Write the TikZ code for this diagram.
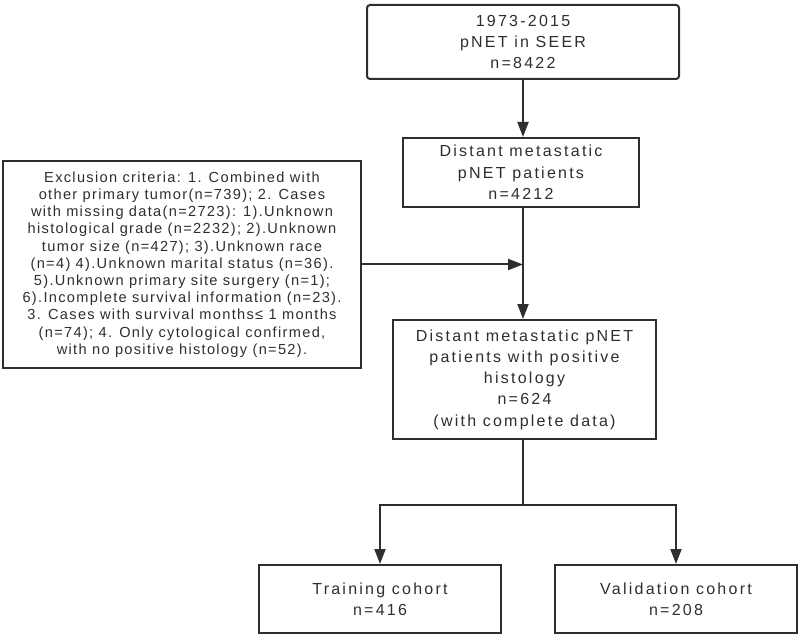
\documentclass[tikz,border=0pt]{standalone}
\usepackage{fontspec}
\setmainfont{Liberation Sans}
\newfontfamily\boxfont[LetterSpace=14]{Liberation Sans}
\newfontfamily\exfont[LetterSpace=9]{Liberation Sans}
\usetikzlibrary{arrows.meta}
\definecolor{ink}{HTML}{2E2E2E}
\begin{document}
\begin{tikzpicture}[x=1pt,y=-1pt,
  mainbox/.style={draw=ink, line width=2pt, text=ink, align=center, inner sep=0pt,
    font=\boxfont\fontsize{16}{21.3}\selectfont},
  exbox/.style={draw=ink, line width=2pt, text=ink, align=center, inner sep=0pt,
    font=\exfont\fontsize{14.6}{17.2}\selectfont},
  conn/.style={draw=ink, line width=2pt},
  arr/.style={conn, -{Triangle[length=15pt,width=11pt]}}]
\useasboundingbox (0,0) rectangle (800,636);
\node[mainbox, rounded corners=3pt, minimum width=312pt, minimum height=74pt] (top) at (523,42)
  {1973-2015\\pNET in SEER\\n=8422};
\node[mainbox, minimum width=236pt, minimum height=69pt] (meta) at (521,172.5)
  {Distant metastatic\\pNET patients\\n=4212};
\node[exbox, minimum width=358pt, minimum height=207pt] (excl) at (182,264.5)
  {Exclusion criteria: 1. Combined with\\
   other primary tumor(n=739); 2. Cases\\
   with missing data(n=2723): 1).Unknown\\
   histological grade (n=2232); 2).Unknown\\
   tumor size (n=427); 3).Unknown race\\
   (n=4) 4).Unknown marital status (n=36).\\
   5).Unknown primary site surgery (n=1);\\
   6).Incomplete survival information (n=23).\\
   3. Cases with survival months≤ 1 months\\
   (n=74); 4. Only cytological confirmed,\\
   with no positive histology (n=52).};
\node[mainbox, minimum width=263pt, minimum height=119pt] (pos) at (524.5,379.5)
  {Distant metastatic pNET\\patients with positive\\histology\\n=624\\(with complete data)};
\node[mainbox, minimum width=242pt, minimum height=68pt] (train) at (380,599)
  {Training cohort\\n=416};
\node[mainbox, minimum width=242pt, minimum height=68pt] (valid) at (676,599)
  {Validation cohort\\n=208};
\coordinate (spine) at (523,0);
\draw[arr] (top.south -| spine) -- (meta.north -| spine);
\draw[arr] (excl.east) -- (excl.east -| spine);
\draw[arr] (meta.south -| spine) -- (pos.north -| spine);
\coordinate (split) at (523,505);
\draw[conn] (pos.south -| spine) -- (split);
\draw[arr] (split) -| (train.north);
\draw[arr] (split) -| (valid.north);
\end{tikzpicture}
\end{document}
